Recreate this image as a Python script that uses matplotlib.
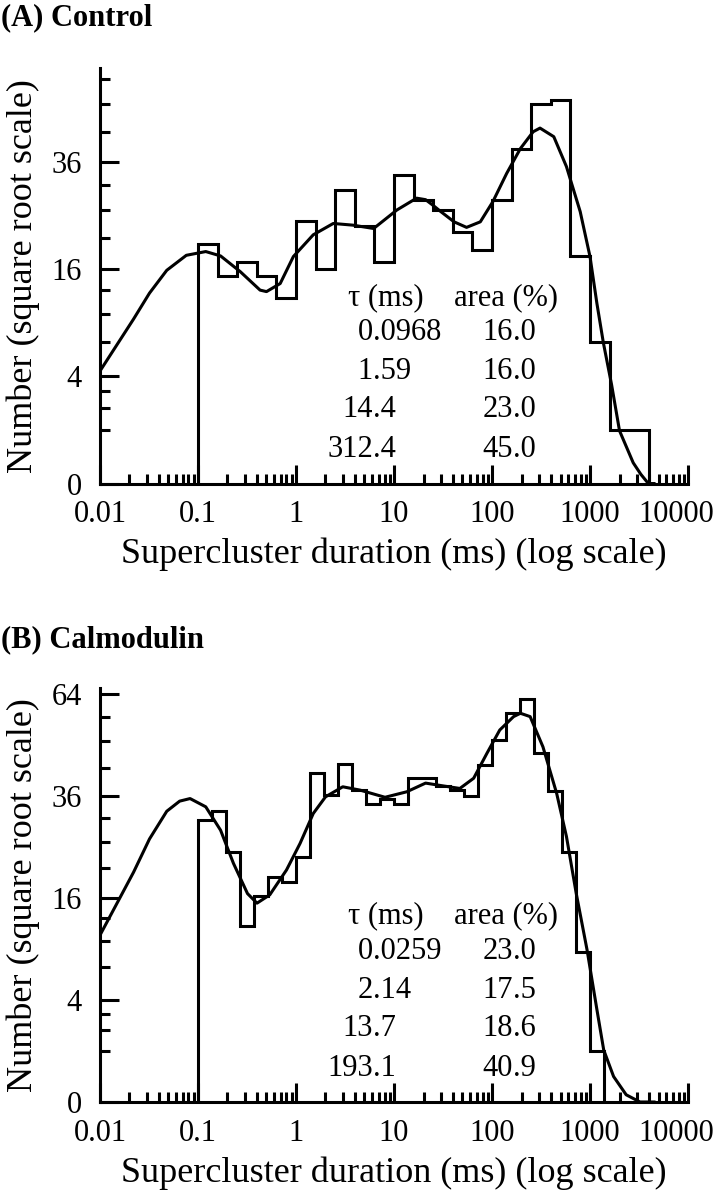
"""
Supercluster duration histograms (control vs. calmodulin) with the fitted
exponential-mixture curve, log time axis and square-root count axis.

Writes out.png.
"""
import numpy as np
import matplotlib
matplotlib.use("Agg")
import matplotlib.pyplot as plt
import matplotlib.transforms as mtransforms
from matplotlib.ticker import FixedLocator, FixedFormatter, LogLocator, NullFormatter

plt.rcParams["font.family"] = ["Liberation Serif", "DejaVu Serif"]

# ── Histogram counts (log-spaced bins, first edge at 0.1 ms) ──────────
CTRL_FIRST_EDGE = 0.1
CTRL_BINS_PER_DECADE = 5
CTRL_COUNTS = [20, 15, 17, 15, 12, 24, 16, 30, 23, 17, 33, 28, 26, 22, 19,
               28, 39, 50, 51, 18, 7, 1, 1]

CALM_FIRST_EDGE = 0.1
CALM_BINS_PER_DECADE = 7
CALM_COUNTS = [30.6, 32.6, 24.1, 11.9, 16.3, 19.5, 18.6, 23.0, 41.5, 36.2,
               43.8, 37.4, 34.1, 35.2, 34.1, 40.4, 40.4, 38.4, 37.4, 36.1,
               43.7, 50.4, 58.3, 62.4, 46.9, 37.2, 24.1, 8.6, 1.0]

# ── Fitted curves ─────────────────────────────────────────────────────
CTRL_FIT_MS = [0.01, 0.022, 0.032, 0.048, 0.076, 0.12, 0.17, 0.27, 0.43,
               0.50, 0.69, 0.94, 1.5, 2.4, 3.8, 6.2, 10.7, 17, 21, 25, 30,
               41, 55, 76, 102, 141, 195, 263, 309, 427, 575, 794, 1000,
               1175, 1368, 1660, 2000, 2760, 3300, 3940, 4500]
CTRL_FIT_N = [4.4, 9.4, 12.6, 15.8, 18.1, 18.7, 18.0, 15.6, 13.0,
              12.8, 13.9, 17.9, 21.5, 23.5, 23.2, 22.6, 26.0, 28.3, 28.0,
              26.9, 25.7, 23.8, 22.8, 23.8, 27.6, 33.4, 39.0, 43.0, 43.9,
              41.8, 34.9, 25.7, 17.9, 11.3, 6.9, 3.4, 0.97, 0.15, 0.03,
              0.0, 0.0]

CALM_FIT_MS = [0.01, 0.022, 0.032, 0.048, 0.065, 0.083, 0.12, 0.17, 0.23,
               0.32, 0.40, 0.54, 0.80, 1.1, 1.5, 2.0, 3.0, 4.5, 8.1, 13.5,
               21, 32, 47, 65, 89, 120, 166, 195, 245, 331, 457, 575, 724,
               933, 1175, 1380, 1740, 2340, 3240, 4500]
CALM_FIT_N = [10.7, 20.3, 26.6, 32.5, 34.8, 35.4, 33.5, 28.4, 21.9,
              16.7, 15.2, 16.5, 20.7, 25.7, 32.0, 35.8, 38.2, 37.4, 35.7,
              37.0, 39.1, 38.4, 37.8, 40.3, 46.8, 53.2, 57.1, 58.1, 57.1,
              48.5, 36.6, 27.1, 16.7, 8.9, 3.3, 1.04, 0.25, 0.02, 0.0, 0.0]

# ── Fit parameters printed in each panel ─────────────────────────────
CTRL_TAU = ["0.0968", "1.59", "14.4", "312.4"]
CTRL_AREA = ["16.0", "16.0", "23.0", "45.0"]
CALM_TAU = ["0.0259", "2.14", "13.7", "193.1"]
CALM_AREA = ["23.0", "17.5", "18.6", "40.9"]

# ── Axis ticks ────────────────────────────────────────────────────────
X_TICKS = [0.01, 0.1, 1, 10, 100, 1000, 10000]
X_TICK_LABELS = ["0.01", "0.1", "1", "10", "100", "1000", "10000"]
CTRL_Y_TICKS = [0, 4, 16, 36]
CALM_Y_TICKS = [0, 4, 16, 36, 64]
Y_MINOR_TICKS = [1, 2, 3, 7, 10, 13, 21, 26, 31, 43, 50, 57]

LW = 2.2
FS_TICK = 22
FS_LABEL = 26


def sqrt_fwd(y):
    return np.sqrt(np.clip(y, 0, None))


def sqrt_inv(y):
    return np.square(y)


def draw_table(ax, taus, areas):
    """Fit-parameter table, decimal points lined up (offsets in pixels)."""
    kw = dict(xy=(0, 0), xycoords="axes fraction", textcoords="offset pixels",
              fontsize=FS_TICK, va="center")
    ax.annotate("τ (ms)", xytext=(286, 186), ha="center", **kw)
    ax.annotate("area (%)", xytext=(406, 186), ha="center", **kw)
    row_dy = [151, 112, 74, 34]
    for tau, area, dy in zip(taus, areas, row_dy):
        for text, dec_x in ((tau, 273), (area, 413)):
            whole, frac = text.split(".")
            ax.annotate(whole, xytext=(dec_x, dy), ha="right", **kw)
            ax.annotate("." + frac, xytext=(dec_x, dy), ha="left", **kw)


def draw_panel(ax, counts, first_edge, per_decade, fit_ms, fit_n,
               taus, areas, y_ticks, y_top):
    edges = first_edge * 10 ** (np.arange(len(counts) + 1) / per_decade)

    ax.stairs(counts, edges, baseline=0, color="black", linewidth=LW)
    ax.plot(fit_ms, fit_n, color="black", linewidth=LW,
            solid_joinstyle="round")

    ax.set_xscale("log")
    ax.set_yscale("function", functions=(sqrt_fwd, sqrt_inv))
    ax.set_xlim(0.01, 10000)
    ax.set_ylim(0, y_top)

    # ── ticks ─────────────────────────────────────────────────────────
    ax.xaxis.set_major_locator(FixedLocator(X_TICKS))
    ax.xaxis.set_major_formatter(FixedFormatter(X_TICK_LABELS))
    ax.xaxis.set_minor_locator(LogLocator(base=10, subs=range(2, 10), numticks=20))
    ax.xaxis.set_minor_formatter(NullFormatter())
    ax.yaxis.set_major_locator(FixedLocator(y_ticks))
    ax.yaxis.set_major_formatter(FixedFormatter([str(v) for v in y_ticks]))
    ax.yaxis.set_minor_locator(FixedLocator([v for v in Y_MINOR_TICKS if v < y_top]))
    ax.yaxis.set_minor_formatter(NullFormatter())

    ax.tick_params(which="major", direction="in", length=14, width=LW,
                   labelsize=FS_TICK)
    ax.tick_params(which="minor", direction="in", length=7, width=LW)
    ax.tick_params(axis="x", which="major", pad=12)
    ax.tick_params(axis="y", which="major", pad=13)

    for side in ("top", "right"):
        ax.spines[side].set_visible(False)
    for side in ("left", "bottom"):
        ax.spines[side].set_linewidth(LW)

    ax.set_xlabel("Supercluster duration (ms) (log scale)", fontsize=FS_LABEL,
                  labelpad=6)
    ax.set_ylabel("Number (square root scale)", fontsize=FS_LABEL, labelpad=8)

    draw_table(ax, taus, areas)


def nudge_last_xlabel(fig, ax, dx_px):
    """Pull the "10000" label in so it stays inside the figure."""
    fig.canvas.draw()
    lbl = ax.xaxis.get_major_ticks()[-1].label1
    lbl.set_transform(lbl.get_transform() +
                      mtransforms.Affine2D().translate(dx_px, 0))


def main():
    fig = plt.figure(figsize=(7.23, 11.99), dpi=100)

    ax_a = fig.add_axes([0.1383, 0.5967, 0.8133, 0.3466])
    ax_b = fig.add_axes([0.1383, 0.0809, 0.8133, 0.3453])

    draw_panel(ax_a, CTRL_COUNTS, CTRL_FIRST_EDGE, CTRL_BINS_PER_DECADE,
               CTRL_FIT_MS, CTRL_FIT_N, CTRL_TAU, CTRL_AREA,
               CTRL_Y_TICKS, 60.0)
    draw_panel(ax_b, CALM_COUNTS, CALM_FIRST_EDGE, CALM_BINS_PER_DECADE,
               CALM_FIT_MS, CALM_FIT_N, CALM_TAU, CALM_AREA,
               CALM_Y_TICKS, 65.9)

    fig.text(0.002, 1 - 18 / 1199, "(A) Control", fontsize=22,
             fontweight="bold", ha="left", va="center")
    fig.text(0.002, 1 - 640 / 1199, "(B) Calmodulin", fontsize=22,
             fontweight="bold", ha="left", va="center")

    for ax in (ax_a, ax_b):
        nudge_last_xlabel(fig, ax, -12)

    fig.savefig("out.png", dpi=100)
    plt.close(fig)


if __name__ == "__main__":
    main()
